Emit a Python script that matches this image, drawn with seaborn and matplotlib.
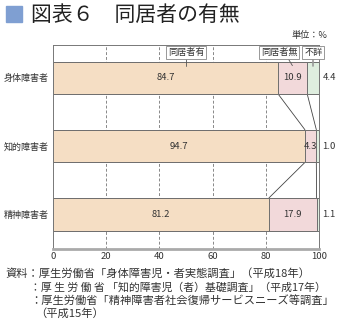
import matplotlib
matplotlib.use("Agg")
import matplotlib.pyplot as plt
import seaborn as sns
import pandas as pd

sns.set_theme(style="white")
plt.rcParams["font.family"] = ["Noto Sans CJK JP", "DejaVu Sans"]

categories = ["身体障害者", "知的障害者", "精神障害者"]
with_family = [84.7, 94.7, 81.2]
without_family = [10.9, 4.3, 17.9]
unknown = [4.4, 1.0, 1.1]
series_names = ["同居者有", "同居者無", "不詳"]
x_ticks = [0, 20, 40, 60, 80, 100]

colors = ["#F5DEC4", "#F2D9DA", "#DFEEDF"]
edge = "#6E6E6E"
text_c = "#333333"

df = pd.DataFrame({
    "category": categories,
    "有": with_family,
    "無": without_family,
    "不詳": unknown,
})
df["cum_有"] = df["有"]
df["cum_無"] = df["有"] + df["無"]
df["cum_不詳"] = df["cum_無"] + df["不詳"]

fig = plt.figure(figsize=(3.38, 3.25), dpi=100)
ax = fig.add_axes([53 / 338, 1 - 249 / 325, 266 / 338, (249 - 44.5) / 325])

# dashed reference lines
for xv in x_ticks[1:-1]:
    ax.axvline(xv, color="#888888", lw=0.7, ls=(0, (3, 2)), zorder=0)

# stacked bars drawn as overlapping cumulative totals
for col, c in zip(["cum_不詳", "cum_無", "cum_有"], colors[::-1]):
    sns.barplot(data=df, x=col, y="category", orient="h", color=c,
                width=0.48, edgecolor=edge, linewidth=0.7, saturation=1,
                ax=ax, zorder=2)

ax.set_xlim(0, 100)
ax.set_ylim(2.51, -0.49)
ax.set_xlabel("")
ax.set_ylabel("")
ax.set_xticks(x_ticks)
ax.set_xticklabels([str(v) for v in x_ticks], fontsize=6.8, color=text_c)
ax.tick_params(axis="x", length=0, pad=2)
ax.tick_params(axis="y", length=0, pad=3)
for lbl in ax.get_yticklabels():
    lbl.set_fontsize(6.5)
    lbl.set_color(text_c)

for s in ["left", "top", "right"]:
    ax.spines[s].set_color("#777777")
    ax.spines[s].set_linewidth(0.7)
ax.spines["bottom"].set_color("#AAAAAA")
ax.spines["bottom"].set_linewidth(2.0)

# connector lines between adjacent bars
h = 0.24
for i in range(len(categories) - 1):
    for a, b in [(df["cum_有"][i], df["cum_有"][i + 1]),
                 (df["cum_無"][i], df["cum_無"][i + 1])]:
        ax.plot([a, b], [i + h, i + 1 - h], color="#444444", lw=0.6, zorder=1)

# value labels
for i in range(len(categories)):
    ax.text(with_family[i] / 2, i, f"{with_family[i]:.1f}", ha="center",
            va="center", fontsize=6.8, color=text_c, zorder=4)
    ax.text(with_family[i] + without_family[i] / 2, i,
            f"{without_family[i]:.1f}", ha="center", va="center",
            fontsize=6.8, color=text_c, zorder=4)
    ax.text(101.3, i, f"{unknown[i]:.1f}", ha="left", va="center",
            fontsize=6.8, color=text_c, clip_on=False)

# series labels with leader lines
box = dict(boxstyle="square,pad=0.2", fc="white", ec="#888888", lw=0.6)
label_y = -0.375
tip_y = -0.18
ax.plot([50, 50], [label_y, tip_y], color="#555555", lw=0.6, zorder=3)
ax.plot([87.0, 90.0], [label_y, tip_y], color="#555555", lw=0.6, zorder=3)
ax.plot([97.7, 97.7], [label_y, tip_y], color="#999999", lw=1.2, zorder=3)
ax.text(50, label_y, series_names[0], ha="center", va="center", fontsize=6.6,
        color=text_c, bbox=box, zorder=5)
ax.text(85.0, label_y, series_names[1], ha="center", va="center", fontsize=6.6,
        color=text_c, bbox=box, zorder=5)
ax.text(97.9, label_y, series_names[2], ha="center", va="center", fontsize=6.6,
        color=text_c, bbox=box, zorder=5, clip_on=False)

# unit
fig.text(327 / 338, 1 - 35 / 325, "単位：%", ha="right", va="center",
         fontsize=6.6, color=text_c)

# title
fig.patches.append(plt.Rectangle((6 / 338, 1 - 22 / 325), 16 / 338, 16 / 325,
                                 transform=fig.transFigure, color="#7F9FD2"))
fig.text(31 / 338, 1 - 14.5 / 325, "図表６　同居者の有無", ha="left",
         va="center", fontsize=15, color="#222222")

# source notes
notes = [
    (5, 273, "資料：厚生労働省「身体障害児・者実態調査」（平成18年）", 8.1),
    (30, 287, "：厚 生 労 働 省 「知的障害児（者）基礎調査」（平成17年）", 7.8),
    (30, 300, "：厚生労働省「精神障害者社会復帰サービスニーズ等調査」", 8.1),
    (35, 313, "（平成15年）", 8.1),
]
for x, y, t, fs in notes:
    fig.text(x / 338, 1 - y / 325, t, ha="left", va="center", fontsize=fs,
             color=text_c)

fig.savefig("out.png", dpi=100)
